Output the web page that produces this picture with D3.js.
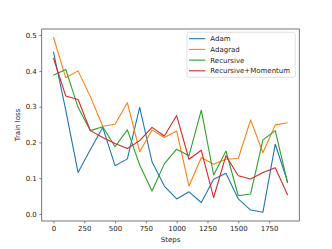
<!DOCTYPE html>
<html><head><meta charset="utf-8">
<script src="https://cdn.jsdelivr.net/npm/d3@7"></script>
<style>body{margin:0;background:#fff}svg{display:block}text{font-family:"DejaVu Sans",sans-serif;fill:#222}</style>
</head><body><svg id="c" width="332" height="249"></svg>
<script>
const steps = [0,100,200,300,400,500,600,700,800,900,1000,1100,1200,1300,1400,1500,1600,1700,1800,1900];
const adam = [0.454,0.29,0.116,0.18,0.242,0.135,0.154,0.298,0.146,0.078,0.042,0.062,0.032,0.097,0.114,0.042,0.011,0.005,0.195,0.09];
const adagrad = [0.494,0.381,0.400,0.328,0.245,0.251,0.311,0.174,0.235,0.214,0.232,0.078,0.158,0.139,0.153,0.155,0.263,0.171,0.249,0.255];
const recursive = [0.388,0.404,0.298,0.233,0.244,0.188,0.235,0.137,0.064,0.140,0.181,0.163,0.29,0.109,0.176,0.051,0.056,0.207,0.233,0.086];
const recMomentum = [0.436,0.330,0.320,0.233,0.214,0.197,0.183,0.205,0.242,0.218,0.275,0.153,0.178,0.046,0.163,0.107,0.098,0.116,0.129,0.053];
const seriesNames = ["Adam","Adagrad","Recursive","Recursive+Momentum"];
const colors = ["#1f77b4","#ff7f0e","#2ca02c","#d62728"];
const xTicks = [0,250,500,750,1000,1250,1500,1750];
const yTicks = [0.0,0.1,0.2,0.3,0.4,0.5];

const L=41.7,R=299.3,T=29,B=221;
const svg=d3.select("#c");
const x=d3.scaleLinear().domain([-95,1995]).range([L,R]);
const y=d3.scaleLinear().domain([-0.0196,0.517]).range([B,T]);

const ax=svg.append("g").attr("transform",`translate(0,${B})`)
  .call(d3.axisBottom(x).tickValues(xTicks).tickSize(2.4).tickPadding(2.5).tickFormat(d3.format("d")));
const ay=svg.append("g").attr("transform",`translate(${L},0)`)
  .call(d3.axisLeft(y).tickValues(yTicks).tickSize(2.4).tickPadding(2.5).tickFormat(d3.format(".1f")));
[ax,ay].forEach(g=>{g.select(".domain").remove();g.selectAll("line").attr("stroke","#333").attr("stroke-width",0.6);
  g.selectAll("text").attr("font-size",7).attr("fill","#222");});

const data=[adam,adagrad,recursive,recMomentum];
const line=d3.line().x((d,i)=>x(steps[i])).y(d=>y(d));
data.forEach((s,k)=>svg.append("path").datum(s).attr("d",line).attr("fill","none")
  .attr("stroke",colors[k]).attr("stroke-width",1.1).attr("stroke-linejoin","round"));

svg.append("rect").attr("x",L).attr("y",T).attr("width",R-L).attr("height",B-T)
  .attr("fill","none").attr("stroke","#555").attr("stroke-width",0.8);

svg.append("text").attr("x",(L+R)/2).attr("y",242).attr("text-anchor","middle").attr("font-size",7).text("Steps");
svg.append("text").attr("transform",`translate(20,${(T+B)/2}) rotate(-90)`).attr("text-anchor","middle").attr("font-size",7).text("Train loss");

const lg=svg.append("g");
lg.append("rect").attr("x",187).attr("y",32.3).attr("width",108.3).attr("height",45).attr("rx",2)
  .attr("fill","#fff").attr("fill-opacity",0.8).attr("stroke","#ccc").attr("stroke-width",0.6);
seriesNames.forEach((n,k)=>{
  const yy=38.7+k*10.7;
  lg.append("line").attr("x1",189).attr("x2",205.3).attr("y1",yy).attr("y2",yy).attr("stroke",colors[k]).attr("stroke-width",1.1);
  lg.append("text").attr("x",210.3).attr("y",yy+2.5).attr("font-size",7).text(n);
});
</script></body></html>
